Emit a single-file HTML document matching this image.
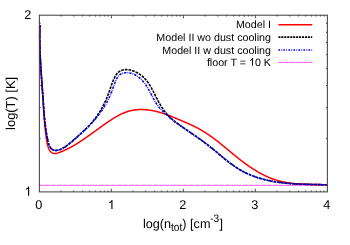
<!DOCTYPE html>
<html><head><meta charset="utf-8"><style>
html,body{margin:0;padding:0;background:#fff;}
svg{display:block;will-change:transform;}
text{text-rendering:geometricPrecision;}
text{font-family:"Liberation Sans",sans-serif;font-size:12px;fill:#000;}
</style></head><body>
<svg width="350" height="245" viewBox="0 0 350 245">
<rect width="350" height="245" fill="#fff"/>
<path d="M39.35,185.3 H327.35" stroke="#ff00ff" stroke-width="0.9" fill="none" opacity="0.5"/><path d="M39.35,185.3 H327.35" stroke="#ff00ff" stroke-width="0.9" stroke-dasharray="4.3,1.7" fill="none" opacity="0.45"/>
<path d="M39.95,25.01 L39.93,25.73 L39.90,26.45 L39.88,27.17 L39.86,27.89 L39.84,28.61 L39.82,29.33 L39.81,30.06 L39.80,30.78 L39.78,31.50 L39.77,32.22 L39.77,32.95 L39.76,33.67 L39.75,34.40 L39.75,35.12 L39.75,35.85 L39.75,36.57 L39.75,37.30 L39.75,38.03 L39.76,38.75 L39.76,39.48 L39.77,40.21 L39.78,40.94 L39.79,41.67 L39.80,42.40 L39.81,43.12 L39.83,43.85 L39.84,44.58 L39.86,45.31 L39.88,46.04 L39.90,46.77 L39.92,47.51 L39.94,48.24 L39.96,48.97 L39.99,49.70 L40.01,50.43 L40.04,51.16 L40.06,51.89 L40.09,52.63 L40.12,53.36 L40.15,54.09 L40.18,54.82 L40.21,55.56 L40.25,56.29 L40.28,57.02 L40.32,57.75 L40.35,58.49 L40.39,59.22 L40.43,59.95 L40.46,60.69 L40.50,61.42 L40.54,62.15 L40.58,62.89 L40.62,63.62 L40.67,64.35 L40.71,65.09 L40.75,65.82 L40.80,66.55 L40.84,67.29 L40.88,68.02 L40.93,68.75 L40.98,69.48 L41.02,70.22 L41.07,70.95 L41.12,71.68 L41.16,72.42 L41.21,73.15 L41.26,73.88 L41.31,74.61 L41.36,75.34 L41.41,76.08 L41.46,76.81 L41.51,77.54 L41.56,78.27 L41.61,79.00 L41.66,79.73 L41.71,80.46 L41.76,81.19 L41.81,81.92 L41.86,82.65 L41.91,83.38 L41.96,84.11 L42.02,84.84 L42.07,85.57 L42.12,86.29 L42.17,87.02 L42.22,87.75 L42.27,88.48 L42.32,89.20 L42.37,89.93 L42.42,90.65 L42.47,91.38 L42.52,92.10 L42.57,92.83 L42.62,93.55 L42.67,94.28 L42.72,95.00 L42.77,95.72 L42.82,96.44 L42.87,97.17 L42.91,97.89 L42.96,98.61 L43.01,99.33 L43.05,100.05 L43.10,100.77 L43.14,101.49 L43.19,102.20 L43.23,102.92 L43.28,103.64 L43.32,104.36 L43.37,105.07 L43.41,105.79 L43.45,106.51 L43.50,107.22 L43.54,107.94 L43.59,108.66 L43.63,109.37 L43.68,110.09 L43.72,110.80 L43.77,111.52 L43.81,112.24 L43.86,112.95 L43.91,113.67 L43.96,114.39 L44.01,115.11 L44.06,115.82 L44.11,116.54 L44.16,117.26 L44.21,117.98 L44.27,118.70 L44.32,119.42 L44.38,120.14 L44.44,120.86 L44.50,121.59 L44.56,122.31 L44.62,123.03 L44.68,123.76 L44.75,124.49 L44.81,125.21 L44.88,125.94 L44.95,126.67 L45.03,127.40 L45.10,128.13 L45.18,128.87 L45.26,129.60 L45.34,130.34 L45.42,131.07 L45.50,131.81 L45.59,132.55 L45.68,133.29 L45.77,134.03 L45.87,134.78 L45.97,135.52 L46.07,136.27 L46.17,137.02 L46.27,137.77 L46.38,138.52 L46.49,139.28 L46.61,140.03 L46.73,140.79 L46.85,141.55 L46.98,142.31 L47.12,143.06 L47.27,143.81 L47.44,144.56 L47.63,145.30 L47.83,146.04 L48.06,146.76 L48.31,147.48 L48.59,148.18 L48.90,148.87 L49.24,149.55 L49.61,150.21 L50.02,150.84 L50.46,151.43 L50.93,151.97 L51.43,152.45 L51.95,152.85 L52.51,153.17 L53.09,153.39 L53.69,153.53 L54.31,153.60 L54.96,153.60 L55.61,153.54 L56.28,153.42 L56.96,153.27 L57.65,153.07 L58.34,152.85 L59.03,152.60 L59.72,152.34 L60.41,152.07 L61.09,151.80 L61.78,151.52 L62.45,151.24 L63.13,150.95 L63.80,150.66 L64.47,150.36 L65.14,150.05 L65.80,149.74 L66.46,149.43 L67.11,149.11 L67.77,148.79 L68.42,148.46 L69.07,148.13 L69.71,147.79 L70.36,147.45 L71.00,147.10 L71.63,146.75 L72.27,146.40 L72.90,146.04 L73.54,145.68 L74.16,145.32 L74.79,144.95 L75.42,144.58 L76.04,144.20 L76.66,143.82 L77.28,143.44 L77.90,143.06 L78.51,142.67 L79.12,142.28 L79.74,141.88 L80.35,141.49 L80.96,141.09 L81.56,140.69 L82.17,140.28 L82.78,139.88 L83.38,139.47 L83.98,139.06 L84.58,138.65 L85.18,138.23 L85.78,137.82 L86.38,137.40 L86.98,136.98 L87.57,136.56 L88.17,136.14 L88.77,135.71 L89.36,135.29 L89.95,134.86 L90.55,134.43 L91.14,134.01 L91.73,133.58 L92.33,133.15 L92.92,132.72 L93.51,132.29 L94.10,131.86 L94.69,131.42 L95.29,130.99 L95.88,130.56 L96.47,130.13 L97.06,129.70 L97.65,129.27 L98.25,128.83 L98.84,128.40 L99.43,127.97 L100.03,127.54 L100.62,127.11 L101.22,126.68 L101.81,126.26 L102.41,125.83 L103.01,125.40 L103.61,124.98 L104.21,124.56 L104.81,124.13 L105.41,123.71 L106.01,123.29 L106.62,122.88 L107.22,122.46 L107.83,122.05 L108.44,121.64 L109.05,121.23 L109.66,120.82 L110.27,120.41 L110.88,120.01 L111.50,119.61 L112.12,119.21 L112.74,118.82 L113.36,118.43 L113.98,118.04 L114.61,117.66 L115.24,117.29 L115.87,116.91 L116.50,116.55 L117.14,116.19 L117.78,115.84 L118.42,115.49 L119.06,115.15 L119.71,114.81 L120.35,114.49 L121.01,114.17 L121.66,113.86 L122.32,113.56 L122.98,113.27 L123.64,112.98 L124.31,112.71 L124.98,112.45 L125.66,112.19 L126.33,111.95 L127.02,111.72 L127.70,111.50 L128.39,111.29 L129.08,111.09 L129.78,110.90 L130.48,110.73 L131.18,110.57 L131.89,110.42 L132.60,110.29 L133.32,110.16 L134.04,110.05 L134.76,109.95 L135.48,109.86 L136.21,109.78 L136.93,109.72 L137.66,109.66 L138.39,109.62 L139.13,109.58 L139.86,109.56 L140.59,109.55 L141.33,109.54 L142.06,109.55 L142.80,109.57 L143.53,109.59 L144.27,109.63 L145.00,109.67 L145.73,109.73 L146.47,109.79 L147.20,109.86 L147.93,109.94 L148.65,110.03 L149.38,110.13 L150.10,110.24 L150.82,110.35 L151.54,110.47 L152.26,110.60 L152.98,110.74 L153.69,110.88 L154.40,111.03 L155.11,111.19 L155.81,111.35 L156.52,111.52 L157.22,111.70 L157.92,111.88 L158.62,112.07 L159.32,112.26 L160.01,112.47 L160.71,112.67 L161.40,112.88 L162.09,113.10 L162.78,113.32 L163.47,113.55 L164.16,113.78 L164.84,114.01 L165.53,114.25 L166.21,114.49 L166.90,114.74 L167.58,114.99 L168.26,115.24 L168.94,115.50 L169.62,115.76 L170.30,116.03 L170.98,116.29 L171.66,116.56 L172.33,116.83 L173.01,117.11 L173.69,117.38 L174.36,117.66 L175.04,117.94 L175.72,118.22 L176.39,118.50 L177.07,118.78 L177.74,119.07 L178.42,119.35 L179.10,119.64 L179.77,119.92 L180.45,120.21 L181.12,120.50 L181.80,120.78 L182.48,121.07 L183.15,121.36 L183.83,121.65 L184.50,121.94 L185.18,122.23 L185.85,122.52 L186.53,122.82 L187.20,123.11 L187.87,123.41 L188.54,123.71 L189.21,124.01 L189.88,124.31 L190.55,124.62 L191.22,124.93 L191.88,125.24 L192.54,125.55 L193.20,125.87 L193.86,126.19 L194.52,126.51 L195.17,126.83 L195.82,127.16 L196.47,127.49 L197.12,127.83 L197.77,128.17 L198.41,128.51 L199.05,128.86 L199.69,129.21 L200.32,129.57 L200.95,129.93 L201.58,130.29 L202.20,130.66 L202.82,131.03 L203.44,131.41 L204.06,131.79 L204.67,132.17 L205.28,132.56 L205.89,132.95 L206.50,133.35 L207.10,133.75 L207.70,134.15 L208.30,134.56 L208.90,134.96 L209.49,135.38 L210.09,135.79 L210.68,136.21 L211.27,136.63 L211.85,137.05 L212.44,137.48 L213.02,137.91 L213.61,138.34 L214.19,138.77 L214.76,139.21 L215.34,139.65 L215.92,140.09 L216.49,140.53 L217.07,140.97 L217.64,141.42 L218.21,141.87 L218.78,142.32 L219.35,142.77 L219.92,143.22 L220.48,143.68 L221.05,144.13 L221.62,144.59 L222.18,145.05 L222.75,145.51 L223.31,145.97 L223.88,146.43 L224.44,146.89 L225.00,147.36 L225.56,147.82 L226.13,148.29 L226.69,148.75 L227.25,149.22 L227.81,149.68 L228.38,150.15 L228.94,150.61 L229.50,151.08 L230.07,151.55 L230.63,152.01 L231.19,152.48 L231.76,152.95 L232.32,153.41 L232.89,153.88 L233.45,154.34 L234.02,154.80 L234.59,155.27 L235.16,155.73 L235.73,156.19 L236.30,156.65 L236.87,157.11 L237.44,157.57 L238.02,158.02 L238.59,158.48 L239.17,158.93 L239.75,159.39 L240.33,159.84 L240.91,160.29 L241.49,160.74 L242.07,161.18 L242.66,161.62 L243.25,162.07 L243.84,162.51 L244.43,162.94 L245.02,163.38 L245.61,163.81 L246.21,164.24 L246.81,164.67 L247.40,165.10 L248.00,165.52 L248.61,165.94 L249.21,166.36 L249.82,166.77 L250.42,167.18 L251.03,167.59 L251.64,167.99 L252.26,168.39 L252.87,168.79 L253.49,169.19 L254.10,169.58 L254.72,169.96 L255.34,170.35 L255.97,170.73 L256.59,171.10 L257.22,171.48 L257.85,171.84 L258.48,172.21 L259.11,172.57 L259.75,172.92 L260.38,173.27 L261.02,173.62 L261.66,173.96 L262.31,174.30 L262.95,174.63 L263.60,174.95 L264.25,175.28 L264.90,175.59 L265.55,175.91 L266.21,176.21 L266.86,176.51 L267.52,176.81 L268.18,177.10 L268.85,177.39 L269.51,177.67 L270.18,177.94 L270.85,178.21 L271.52,178.47 L272.19,178.73 L272.87,178.98 L273.55,179.22 L274.23,179.46 L274.91,179.69 L275.60,179.91 L276.28,180.13 L276.97,180.34 L277.67,180.55 L278.36,180.75 L279.06,180.94 L279.75,181.12 L280.46,181.30 L281.16,181.47 L281.87,181.64 L282.57,181.79 L283.28,181.95 L284.00,182.09 L284.71,182.23 L285.42,182.36 L286.14,182.49 L286.86,182.61 L287.58,182.72 L288.30,182.83 L289.03,182.94 L289.75,183.04 L290.48,183.13 L291.21,183.22 L291.94,183.31 L292.67,183.39 L293.40,183.46 L294.13,183.54 L294.87,183.60 L295.60,183.67 L296.33,183.73 L297.07,183.78 L297.81,183.84 L298.54,183.89 L299.28,183.93 L300.02,183.98 L300.76,184.02 L301.50,184.06 L302.23,184.09 L302.97,184.12 L303.71,184.15 L304.45,184.18 L305.19,184.21 L305.93,184.23 L306.67,184.26 L307.40,184.28 L308.14,184.30 L308.88,184.32 L309.62,184.34 L310.35,184.35 L311.09,184.37 L311.82,184.38 L312.56,184.40 L313.29,184.41 L314.02,184.43 L314.75,184.44 L315.48,184.46 L316.21,184.47 L316.94,184.49 L317.67,184.50 L318.39,184.52 L319.11,184.54 L319.84,184.55 L320.56,184.57 L321.27,184.59 L321.99,184.62 L322.71,184.64 L323.42,184.67 L324.13,184.69 L324.84,184.72 L325.55,184.75 L326.25,184.79 L326.96,184.82" stroke="#ff0000" stroke-width="1.5" fill="none" stroke-linejoin="round"/>
<path d="M39.95,25.01 L39.93,25.81 L39.90,26.62 L39.88,27.43 L39.86,28.23 L39.84,29.04 L39.82,29.85 L39.81,30.66 L39.80,31.46 L39.79,32.27 L39.78,33.08 L39.77,33.89 L39.77,34.70 L39.76,35.51 L39.76,36.32 L39.76,37.13 L39.77,37.94 L39.77,38.75 L39.78,39.56 L39.79,40.37 L39.80,41.19 L39.81,42.00 L39.82,42.81 L39.83,43.62 L39.85,44.43 L39.87,45.25 L39.89,46.06 L39.91,46.87 L39.93,47.68 L39.95,48.50 L39.98,49.31 L40.00,50.12 L40.03,50.94 L40.06,51.75 L40.09,52.56 L40.12,53.38 L40.15,54.19 L40.19,55.01 L40.22,55.82 L40.26,56.63 L40.29,57.45 L40.33,58.26 L40.37,59.08 L40.41,59.89 L40.45,60.70 L40.50,61.52 L40.54,62.33 L40.58,63.15 L40.63,63.96 L40.67,64.77 L40.72,65.59 L40.77,66.40 L40.82,67.22 L40.87,68.03 L40.92,68.84 L40.97,69.66 L41.02,70.47 L41.07,71.29 L41.12,72.10 L41.18,72.91 L41.23,73.73 L41.29,74.54 L41.34,75.35 L41.40,76.16 L41.45,76.98 L41.51,77.79 L41.57,78.60 L41.62,79.41 L41.68,80.23 L41.74,81.04 L41.80,81.85 L41.85,82.66 L41.91,83.47 L41.97,84.28 L42.03,85.09 L42.09,85.90 L42.15,86.71 L42.21,87.52 L42.27,88.33 L42.33,89.14 L42.39,89.95 L42.45,90.76 L42.51,91.57 L42.57,92.38 L42.63,93.19 L42.69,93.99 L42.75,94.80 L42.81,95.61 L42.86,96.41 L42.92,97.22 L42.98,98.03 L43.04,98.83 L43.10,99.64 L43.16,100.44 L43.21,101.25 L43.27,102.05 L43.33,102.85 L43.39,103.66 L43.44,104.46 L43.50,105.26 L43.56,106.06 L43.62,106.87 L43.68,107.67 L43.74,108.47 L43.80,109.27 L43.86,110.08 L43.92,110.88 L43.98,111.68 L44.05,112.48 L44.11,113.29 L44.18,114.09 L44.25,114.89 L44.32,115.70 L44.39,116.50 L44.47,117.30 L44.54,118.11 L44.62,118.91 L44.70,119.72 L44.78,120.53 L44.87,121.33 L44.95,122.14 L45.04,122.95 L45.13,123.76 L45.23,124.56 L45.33,125.37 L45.43,126.18 L45.53,127.00 L45.64,127.81 L45.75,128.62 L45.86,129.43 L45.98,130.25 L46.10,131.06 L46.23,131.88 L46.35,132.70 L46.49,133.52 L46.62,134.34 L46.76,135.16 L46.91,135.98 L47.06,136.80 L47.21,137.63 L47.37,138.45 L47.53,139.28 L47.70,140.11 L47.87,140.94 L48.05,141.77 L48.25,142.59 L48.47,143.39 L48.71,144.19 L48.99,144.96 L49.30,145.70 L49.65,146.42 L50.05,147.10 L50.51,147.74 L51.02,148.33 L51.58,148.87 L52.19,149.35 L52.84,149.76 L53.52,150.08 L54.24,150.31 L54.97,150.44 L55.73,150.47 L56.50,150.41 L57.28,150.27 L58.07,150.07 L58.85,149.82 L59.63,149.53 L60.40,149.22 L61.16,148.89 L61.90,148.54 L62.64,148.18 L63.36,147.80 L64.08,147.40 L64.78,146.98 L65.48,146.56 L66.16,146.12 L66.84,145.66 L67.51,145.19 L68.17,144.72 L68.83,144.23 L69.48,143.73 L70.12,143.22 L70.76,142.70 L71.39,142.18 L72.01,141.64 L72.63,141.10 L73.25,140.56 L73.86,140.01 L74.47,139.45 L75.08,138.90 L75.68,138.34 L76.28,137.77 L76.88,137.21 L77.47,136.65 L78.07,136.08 L78.66,135.52 L79.26,134.95 L79.85,134.39 L80.45,133.84 L81.04,133.28 L81.64,132.73 L82.23,132.18 L82.83,131.63 L83.42,131.08 L84.01,130.53 L84.60,129.98 L85.18,129.43 L85.77,128.87 L86.35,128.32 L86.92,127.76 L87.50,127.19 L88.07,126.63 L88.63,126.05 L89.19,125.48 L89.75,124.89 L90.30,124.31 L90.84,123.71 L91.38,123.11 L91.91,122.50 L92.43,121.88 L92.95,121.26 L93.47,120.63 L93.97,120.00 L94.48,119.36 L94.97,118.72 L95.46,118.07 L95.95,117.41 L96.43,116.75 L96.90,116.09 L97.36,115.42 L97.82,114.75 L98.28,114.07 L98.73,113.38 L99.17,112.69 L99.60,112.00 L100.03,111.31 L100.46,110.61 L100.87,109.90 L101.28,109.19 L101.69,108.48 L102.09,107.77 L102.48,107.05 L102.86,106.33 L103.24,105.61 L103.62,104.88 L103.98,104.15 L104.34,103.42 L104.70,102.68 L105.04,101.95 L105.38,101.21 L105.72,100.46 L106.05,99.72 L106.37,98.98 L106.68,98.23 L106.99,97.48 L107.29,96.73 L107.59,95.98 L107.87,95.23 L108.16,94.48 L108.43,93.73 L108.70,92.97 L108.97,92.21 L109.23,91.46 L109.49,90.70 L109.75,89.94 L110.01,89.18 L110.28,88.42 L110.54,87.65 L110.80,86.89 L111.07,86.12 L111.35,85.35 L111.63,84.58 L111.91,83.81 L112.21,83.03 L112.51,82.26 L112.82,81.48 L113.14,80.70 L113.47,79.92 L113.82,79.13 L114.18,78.35 L114.56,77.58 L114.95,76.81 L115.36,76.07 L115.79,75.35 L116.24,74.66 L116.72,74.00 L117.22,73.38 L117.75,72.80 L118.30,72.27 L118.89,71.79 L119.50,71.36 L120.14,70.99 L120.80,70.66 L121.49,70.38 L122.19,70.15 L122.92,69.96 L123.66,69.82 L124.42,69.72 L125.19,69.65 L125.97,69.63 L126.76,69.65 L127.57,69.71 L128.38,69.80 L129.19,69.92 L130.01,70.08 L130.83,70.27 L131.64,70.50 L132.46,70.75 L133.28,71.03 L134.08,71.33 L134.88,71.66 L135.68,72.02 L136.46,72.40 L137.23,72.80 L137.98,73.22 L138.72,73.65 L139.45,74.11 L140.15,74.58 L140.83,75.07 L141.49,75.57 L142.14,76.09 L142.76,76.62 L143.36,77.16 L143.95,77.71 L144.51,78.28 L145.06,78.86 L145.60,79.45 L146.12,80.05 L146.62,80.66 L147.11,81.28 L147.59,81.91 L148.06,82.55 L148.51,83.19 L148.95,83.85 L149.38,84.51 L149.81,85.18 L150.22,85.86 L150.62,86.54 L151.02,87.23 L151.41,87.93 L151.79,88.63 L152.17,89.33 L152.55,90.04 L152.92,90.75 L153.28,91.47 L153.65,92.19 L154.01,92.91 L154.37,93.63 L154.73,94.35 L155.09,95.08 L155.45,95.81 L155.81,96.53 L156.18,97.26 L156.55,97.98 L156.92,98.71 L157.29,99.43 L157.67,100.15 L158.06,100.87 L158.45,101.59 L158.84,102.30 L159.24,103.01 L159.65,103.72 L160.06,104.43 L160.48,105.13 L160.91,105.82 L161.34,106.51 L161.77,107.20 L162.22,107.88 L162.67,108.55 L163.13,109.22 L163.60,109.88 L164.07,110.54 L164.56,111.19 L165.05,111.83 L165.55,112.47 L166.06,113.09 L166.57,113.71 L167.10,114.32 L167.64,114.92 L168.18,115.52 L168.74,116.10 L169.31,116.68 L169.88,117.24 L170.46,117.80 L171.05,118.35 L171.65,118.89 L172.26,119.43 L172.87,119.96 L173.49,120.48 L174.12,121.00 L174.75,121.50 L175.39,122.01 L176.03,122.51 L176.68,123.00 L177.34,123.49 L177.99,123.97 L178.66,124.45 L179.32,124.93 L179.99,125.40 L180.66,125.87 L181.33,126.34 L182.01,126.80 L182.69,127.26 L183.36,127.72 L184.04,128.18 L184.72,128.64 L185.41,129.09 L186.09,129.55 L186.77,130.00 L187.44,130.46 L188.12,130.91 L188.80,131.37 L189.47,131.82 L190.15,132.28 L190.82,132.73 L191.49,133.19 L192.16,133.65 L192.83,134.11 L193.50,134.57 L194.16,135.03 L194.83,135.49 L195.49,135.95 L196.15,136.41 L196.81,136.88 L197.47,137.34 L198.13,137.81 L198.78,138.28 L199.44,138.75 L200.09,139.22 L200.75,139.70 L201.40,140.17 L202.05,140.65 L202.69,141.13 L203.34,141.61 L203.99,142.09 L204.63,142.58 L205.28,143.07 L205.92,143.55 L206.56,144.05 L207.20,144.54 L207.84,145.04 L208.47,145.54 L209.11,146.04 L209.74,146.54 L210.38,147.05 L211.01,147.56 L211.64,148.07 L212.27,148.59 L212.90,149.10 L213.53,149.62 L214.15,150.14 L214.78,150.66 L215.41,151.19 L216.03,151.71 L216.66,152.23 L217.29,152.76 L217.91,153.28 L218.54,153.81 L219.17,154.33 L219.80,154.86 L220.42,155.38 L221.05,155.91 L221.68,156.43 L222.31,156.95 L222.94,157.47 L223.57,157.99 L224.21,158.50 L224.84,159.02 L225.48,159.53 L226.12,160.04 L226.76,160.55 L227.40,161.05 L228.04,161.56 L228.68,162.05 L229.33,162.55 L229.98,163.04 L230.63,163.53 L231.29,164.01 L231.94,164.49 L232.60,164.96 L233.26,165.43 L233.93,165.90 L234.60,166.36 L235.27,166.81 L235.94,167.26 L236.62,167.70 L237.30,168.14 L237.99,168.57 L238.67,168.99 L239.37,169.41 L240.06,169.82 L240.76,170.22 L241.47,170.62 L242.17,171.01 L242.88,171.39 L243.60,171.76 L244.32,172.13 L245.04,172.49 L245.77,172.85 L246.50,173.19 L247.23,173.54 L247.97,173.87 L248.71,174.20 L249.45,174.52 L250.19,174.84 L250.94,175.14 L251.69,175.45 L252.45,175.74 L253.20,176.03 L253.96,176.32 L254.72,176.59 L255.49,176.86 L256.25,177.13 L257.02,177.39 L257.79,177.64 L258.57,177.89 L259.34,178.13 L260.12,178.36 L260.90,178.59 L261.68,178.82 L262.46,179.04 L263.24,179.25 L264.03,179.46 L264.82,179.66 L265.60,179.85 L266.39,180.04 L267.19,180.23 L267.98,180.41 L268.77,180.58 L269.57,180.75 L270.36,180.92 L271.16,181.07 L271.95,181.23 L272.75,181.38 L273.55,181.52 L274.35,181.66 L275.15,181.79 L275.95,181.92 L276.75,182.05 L277.55,182.17 L278.36,182.29 L279.16,182.40 L279.97,182.51 L280.77,182.61 L281.58,182.71 L282.38,182.81 L283.19,182.90 L284.00,182.99 L284.80,183.08 L285.61,183.16 L286.42,183.24 L287.23,183.31 L288.04,183.39 L288.85,183.46 L289.66,183.52 L290.47,183.58 L291.28,183.65 L292.09,183.70 L292.90,183.76 L293.72,183.81 L294.53,183.86 L295.34,183.91 L296.15,183.95 L296.97,183.99 L297.78,184.03 L298.59,184.07 L299.40,184.11 L300.22,184.14 L301.03,184.18 L301.85,184.21 L302.66,184.24 L303.47,184.27 L304.29,184.29 L305.10,184.32 L305.91,184.34 L306.73,184.36 L307.54,184.39 L308.35,184.41 L309.17,184.43 L309.98,184.45 L310.79,184.47 L311.61,184.48 L312.42,184.50 L313.23,184.52 L314.04,184.53 L314.85,184.55 L315.67,184.57 L316.48,184.58 L317.29,184.60 L318.10,184.62 L318.91,184.63 L319.72,184.65 L320.53,184.67 L321.34,184.68 L322.15,184.70 L322.95,184.72 L323.76,184.74 L324.57,184.76 L325.37,184.78 L326.18,184.81 L326.99,184.83" stroke="#000" stroke-width="1.6" fill="none" stroke-dasharray="2.75,0.95"/>
<path d="M39.96,25.01 L39.93,25.80 L39.90,26.60 L39.87,27.39 L39.84,28.19 L39.82,28.98 L39.80,29.78 L39.78,30.58 L39.76,31.37 L39.75,32.17 L39.74,32.97 L39.73,33.77 L39.72,34.57 L39.72,35.37 L39.71,36.17 L39.71,36.97 L39.71,37.77 L39.72,38.57 L39.72,39.37 L39.73,40.17 L39.74,40.97 L39.75,41.77 L39.76,42.58 L39.77,43.38 L39.79,44.18 L39.81,44.98 L39.82,45.79 L39.85,46.59 L39.87,47.40 L39.89,48.20 L39.92,49.00 L39.94,49.81 L39.97,50.61 L40.00,51.42 L40.03,52.22 L40.07,53.03 L40.10,53.83 L40.14,54.64 L40.17,55.44 L40.21,56.25 L40.25,57.05 L40.29,57.86 L40.33,58.67 L40.37,59.47 L40.42,60.28 L40.46,61.08 L40.51,61.89 L40.55,62.69 L40.60,63.50 L40.65,64.31 L40.70,65.11 L40.75,65.92 L40.80,66.72 L40.85,67.53 L40.90,68.34 L40.95,69.14 L41.01,69.95 L41.06,70.75 L41.11,71.56 L41.17,72.36 L41.22,73.17 L41.28,73.97 L41.34,74.78 L41.39,75.58 L41.45,76.39 L41.51,77.19 L41.57,77.99 L41.63,78.80 L41.68,79.60 L41.74,80.40 L41.80,81.21 L41.86,82.01 L41.92,82.81 L41.98,83.61 L42.04,84.42 L42.10,85.22 L42.16,86.02 L42.21,86.82 L42.27,87.62 L42.33,88.42 L42.39,89.22 L42.45,90.02 L42.51,90.82 L42.56,91.62 L42.62,92.41 L42.68,93.21 L42.74,94.01 L42.79,94.81 L42.85,95.60 L42.90,96.40 L42.96,97.19 L43.01,97.99 L43.07,98.78 L43.12,99.58 L43.17,100.37 L43.22,101.16 L43.28,101.96 L43.33,102.75 L43.38,103.54 L43.43,104.33 L43.48,105.12 L43.53,105.91 L43.58,106.70 L43.63,107.50 L43.69,108.29 L43.74,109.08 L43.79,109.87 L43.85,110.66 L43.90,111.45 L43.96,112.24 L44.02,113.03 L44.08,113.82 L44.14,114.61 L44.21,115.41 L44.28,116.20 L44.34,116.99 L44.41,117.78 L44.49,118.58 L44.56,119.37 L44.64,120.17 L44.72,120.96 L44.81,121.76 L44.90,122.56 L44.99,123.36 L45.08,124.16 L45.18,124.96 L45.28,125.76 L45.39,126.56 L45.50,127.37 L45.61,128.17 L45.73,128.98 L45.85,129.78 L45.97,130.59 L46.11,131.40 L46.24,132.21 L46.38,133.03 L46.53,133.84 L46.68,134.66 L46.84,135.47 L47.00,136.29 L47.17,137.11 L47.34,137.93 L47.52,138.76 L47.70,139.58 L47.90,140.41 L48.09,141.24 L48.30,142.07 L48.52,142.88 L48.76,143.68 L49.02,144.46 L49.30,145.21 L49.61,145.94 L49.94,146.63 L50.31,147.27 L50.71,147.88 L51.15,148.43 L51.64,148.92 L52.16,149.35 L52.74,149.72 L53.36,150.01 L54.04,150.23 L54.78,150.36 L55.57,150.42 L56.39,150.40 L57.25,150.31 L58.11,150.16 L58.97,149.96 L59.82,149.72 L60.64,149.43 L61.42,149.12 L62.18,148.77 L62.92,148.39 L63.63,147.98 L64.32,147.55 L64.99,147.10 L65.64,146.63 L66.28,146.14 L66.91,145.64 L67.53,145.13 L68.14,144.61 L68.75,144.08 L69.35,143.56 L69.95,143.03 L70.56,142.50 L71.17,141.98 L71.78,141.46 L72.39,140.94 L73.00,140.42 L73.61,139.90 L74.23,139.39 L74.84,138.87 L75.46,138.36 L76.07,137.84 L76.69,137.32 L77.30,136.81 L77.91,136.29 L78.52,135.77 L79.13,135.25 L79.73,134.73 L80.34,134.20 L80.94,133.67 L81.54,133.14 L82.13,132.61 L82.72,132.08 L83.31,131.54 L83.90,131.00 L84.48,130.45 L85.06,129.90 L85.64,129.35 L86.22,128.80 L86.79,128.24 L87.36,127.68 L87.93,127.12 L88.49,126.55 L89.05,125.98 L89.61,125.40 L90.16,124.82 L90.72,124.24 L91.26,123.65 L91.81,123.06 L92.35,122.46 L92.89,121.86 L93.43,121.26 L93.96,120.65 L94.48,120.04 L95.01,119.43 L95.53,118.81 L96.04,118.19 L96.55,117.56 L97.06,116.93 L97.56,116.30 L98.06,115.66 L98.56,115.02 L99.04,114.38 L99.53,113.73 L100.01,113.08 L100.48,112.43 L100.95,111.77 L101.41,111.11 L101.87,110.44 L102.32,109.78 L102.77,109.11 L103.21,108.43 L103.64,107.76 L104.07,107.08 L104.49,106.39 L104.91,105.71 L105.32,105.02 L105.73,104.33 L106.12,103.63 L106.51,102.93 L106.90,102.23 L107.27,101.53 L107.64,100.82 L108.01,100.11 L108.36,99.40 L108.71,98.69 L109.05,97.97 L109.38,97.25 L109.71,96.52 L110.03,95.80 L110.34,95.07 L110.64,94.34 L110.93,93.61 L111.22,92.87 L111.51,92.13 L111.79,91.39 L112.06,90.64 L112.34,89.89 L112.61,89.14 L112.88,88.38 L113.15,87.62 L113.43,86.85 L113.70,86.08 L113.98,85.31 L114.27,84.53 L114.56,83.75 L114.85,82.96 L115.15,82.16 L115.47,81.37 L115.79,80.58 L116.14,79.80 L116.50,79.04 L116.88,78.30 L117.30,77.59 L117.74,76.92 L118.21,76.28 L118.73,75.69 L119.28,75.16 L119.87,74.68 L120.51,74.25 L121.18,73.89 L121.88,73.57 L122.61,73.31 L123.36,73.10 L124.14,72.93 L124.93,72.82 L125.73,72.74 L126.54,72.71 L127.35,72.73 L128.16,72.78 L128.97,72.87 L129.78,73.00 L130.56,73.16 L131.34,73.36 L132.10,73.59 L132.85,73.85 L133.59,74.14 L134.31,74.46 L135.02,74.80 L135.72,75.18 L136.40,75.58 L137.08,76.00 L137.73,76.45 L138.38,76.92 L139.01,77.42 L139.63,77.93 L140.23,78.46 L140.82,79.02 L141.40,79.58 L141.97,80.17 L142.52,80.77 L143.06,81.38 L143.59,82.01 L144.11,82.65 L144.61,83.30 L145.10,83.95 L145.57,84.62 L146.03,85.30 L146.49,85.98 L146.92,86.66 L147.35,87.35 L147.77,88.05 L148.18,88.75 L148.58,89.46 L148.98,90.17 L149.37,90.88 L149.75,91.59 L150.13,92.31 L150.50,93.02 L150.88,93.74 L151.25,94.45 L151.62,95.17 L151.99,95.89 L152.36,96.60 L152.73,97.31 L153.11,98.02 L153.48,98.72 L153.87,99.42 L154.26,100.12 L154.65,100.81 L155.05,101.50 L155.46,102.18 L155.88,102.85 L156.31,103.52 L156.75,104.18 L157.20,104.83 L157.66,105.48 L158.14,106.11 L158.63,106.73 L159.13,107.35 L159.64,107.96 L160.16,108.56 L160.69,109.16 L161.23,109.74 L161.77,110.32 L162.33,110.89 L162.90,111.46 L163.47,112.02 L164.05,112.58 L164.63,113.12 L165.22,113.67 L165.82,114.21 L166.42,114.74 L167.02,115.27 L167.63,115.79 L168.24,116.31 L168.85,116.83 L169.47,117.34 L170.09,117.85 L170.71,118.36 L171.33,118.86 L171.96,119.36 L172.59,119.86 L173.22,120.35 L173.85,120.84 L174.49,121.33 L175.12,121.81 L175.76,122.30 L176.40,122.77 L177.05,123.25 L177.69,123.73 L178.34,124.20 L178.98,124.67 L179.63,125.14 L180.28,125.60 L180.93,126.07 L181.59,126.53 L182.24,126.99 L182.89,127.45 L183.55,127.91 L184.21,128.37 L184.86,128.83 L185.52,129.28 L186.18,129.74 L186.84,130.19 L187.50,130.64 L188.16,131.09 L188.82,131.55 L189.49,132.00 L190.15,132.45 L190.81,132.90 L191.47,133.35 L192.13,133.80 L192.80,134.25 L193.46,134.71 L194.12,135.16 L194.78,135.61 L195.44,136.06 L196.10,136.52 L196.76,136.97 L197.42,137.43 L198.08,137.89 L198.74,138.34 L199.40,138.80 L200.06,139.26 L200.71,139.72 L201.37,140.19 L202.02,140.65 L202.67,141.12 L203.33,141.59 L203.98,142.06 L204.62,142.53 L205.27,143.01 L205.92,143.49 L206.56,143.97 L207.20,144.45 L207.84,144.94 L208.48,145.43 L209.12,145.92 L209.75,146.41 L210.39,146.91 L211.02,147.41 L211.65,147.91 L212.27,148.42 L212.90,148.93 L213.52,149.44 L214.15,149.95 L214.77,150.47 L215.39,150.98 L216.01,151.50 L216.63,152.02 L217.24,152.54 L217.86,153.06 L218.48,153.58 L219.09,154.10 L219.71,154.62 L220.33,155.14 L220.94,155.66 L221.56,156.18 L222.18,156.70 L222.80,157.22 L223.41,157.73 L224.03,158.25 L224.65,158.76 L225.28,159.27 L225.90,159.78 L226.52,160.29 L227.15,160.79 L227.78,161.29 L228.41,161.79 L229.04,162.29 L229.67,162.78 L230.31,163.26 L230.94,163.75 L231.58,164.23 L232.23,164.70 L232.87,165.17 L233.52,165.64 L234.18,166.10 L234.83,166.55 L235.49,167.00 L236.15,167.45 L236.82,167.88 L237.49,168.32 L238.16,168.74 L238.84,169.16 L239.52,169.57 L240.21,169.98 L240.90,170.37 L241.59,170.76 L242.29,171.15 L242.99,171.52 L243.70,171.89 L244.41,172.26 L245.13,172.61 L245.85,172.96 L246.57,173.30 L247.30,173.64 L248.03,173.97 L248.76,174.29 L249.49,174.60 L250.23,174.91 L250.98,175.21 L251.72,175.51 L252.47,175.80 L253.22,176.08 L253.98,176.36 L254.73,176.63 L255.49,176.90 L256.25,177.16 L257.02,177.41 L257.78,177.66 L258.55,177.90 L259.32,178.14 L260.09,178.37 L260.86,178.59 L261.64,178.81 L262.42,179.03 L263.20,179.23 L263.97,179.44 L264.76,179.63 L265.54,179.83 L266.32,180.01 L267.11,180.20 L267.89,180.37 L268.68,180.54 L269.47,180.71 L270.25,180.87 L271.04,181.03 L271.83,181.18 L272.62,181.33 L273.41,181.47 L274.20,181.61 L274.99,181.74 L275.78,181.87 L276.58,182.00 L277.37,182.12 L278.16,182.24 L278.96,182.35 L279.75,182.46 L280.55,182.56 L281.34,182.66 L282.14,182.76 L282.93,182.85 L283.73,182.94 L284.52,183.03 L285.32,183.11 L286.12,183.19 L286.92,183.27 L287.71,183.34 L288.51,183.42 L289.31,183.48 L290.11,183.55 L290.91,183.61 L291.71,183.67 L292.51,183.73 L293.31,183.78 L294.11,183.83 L294.91,183.88 L295.71,183.93 L296.51,183.97 L297.31,184.01 L298.12,184.05 L298.92,184.09 L299.72,184.13 L300.52,184.16 L301.32,184.20 L302.13,184.23 L302.93,184.26 L303.73,184.29 L304.53,184.31 L305.34,184.34 L306.14,184.36 L306.94,184.38 L307.74,184.41 L308.55,184.43 L309.35,184.45 L310.15,184.47 L310.96,184.49 L311.76,184.50 L312.56,184.52 L313.36,184.54 L314.17,184.55 L314.97,184.57 L315.77,184.59 L316.58,184.60 L317.38,184.62 L318.18,184.63 L318.98,184.65 L319.79,184.66 L320.59,184.68 L321.39,184.69 L322.19,184.71 L322.99,184.73 L323.79,184.75 L324.60,184.76 L325.40,184.78 L326.20,184.80 L327.00,184.82" stroke="#0000ff" stroke-width="1.6" fill="none" stroke-dasharray="2.3,1.05,0.75,1.05"/>
<rect x="39.35" y="15.2" width="288.0" height="176.70000000000002" fill="none" stroke="#3a3a3a" stroke-width="1"/>
<path d="M61.02,191.90 v-1.4 M61.02,15.20 v1.4 M73.70,191.90 v-1.4 M73.70,15.20 v1.4 M82.70,191.90 v-1.4 M82.70,15.20 v1.4 M89.68,191.90 v-1.4 M89.68,15.20 v1.4 M95.38,191.90 v-1.4 M95.38,15.20 v1.4 M100.20,191.90 v-1.4 M100.20,15.20 v1.4 M104.37,191.90 v-1.4 M104.37,15.20 v1.4 M108.06,191.90 v-1.4 M108.06,15.20 v1.4 M111.35,191.90 v-3.2 M111.35,15.20 v3.2 M133.02,191.90 v-1.4 M133.02,15.20 v1.4 M145.70,191.90 v-1.4 M145.70,15.20 v1.4 M154.70,191.90 v-1.4 M154.70,15.20 v1.4 M161.68,191.90 v-1.4 M161.68,15.20 v1.4 M167.38,191.90 v-1.4 M167.38,15.20 v1.4 M172.20,191.90 v-1.4 M172.20,15.20 v1.4 M176.37,191.90 v-1.4 M176.37,15.20 v1.4 M180.06,191.90 v-1.4 M180.06,15.20 v1.4 M183.35,191.90 v-3.2 M183.35,15.20 v3.2 M205.02,191.90 v-1.4 M205.02,15.20 v1.4 M217.70,191.90 v-1.4 M217.70,15.20 v1.4 M226.70,191.90 v-1.4 M226.70,15.20 v1.4 M233.68,191.90 v-1.4 M233.68,15.20 v1.4 M239.38,191.90 v-1.4 M239.38,15.20 v1.4 M244.20,191.90 v-1.4 M244.20,15.20 v1.4 M248.37,191.90 v-1.4 M248.37,15.20 v1.4 M252.06,191.90 v-1.4 M252.06,15.20 v1.4 M255.35,191.90 v-3.2 M255.35,15.20 v3.2 M277.02,191.90 v-1.4 M277.02,15.20 v1.4 M289.70,191.90 v-1.4 M289.70,15.20 v1.4 M298.70,191.90 v-1.4 M298.70,15.20 v1.4 M305.68,191.90 v-1.4 M305.68,15.20 v1.4 M311.38,191.90 v-1.4 M311.38,15.20 v1.4 M316.20,191.90 v-1.4 M316.20,15.20 v1.4 M320.37,191.90 v-1.4 M320.37,15.20 v1.4 M324.06,191.90 v-1.4 M324.06,15.20 v1.4 M39.35,138.71 h1.4 M327.35,138.71 h-1.4 M39.35,107.59 h1.4 M327.35,107.59 h-1.4 M39.35,85.52 h1.4 M327.35,85.52 h-1.4 M39.35,68.39 h1.4 M327.35,68.39 h-1.4 M39.35,54.40 h1.4 M327.35,54.40 h-1.4 M39.35,42.57 h1.4 M327.35,42.57 h-1.4 M39.35,32.32 h1.4 M327.35,32.32 h-1.4 M39.35,23.29 h1.4 M327.35,23.29 h-1.4 " stroke="#3a3a3a" stroke-width="0.9" fill="none"/>
<!-- legend -->
<g id="txt">
<g style="font-size:10.7px">
<text x="271" y="28.2" text-anchor="end" style="font-size:10.7px">Model I</text>
<text x="271" y="41" text-anchor="end" style="font-size:10.7px">Model II wo dust cooling</text>
<text x="271" y="53.7" text-anchor="end" style="font-size:10.7px">Model II w dust cooling</text>
<text x="271" y="65.8" text-anchor="end" style="font-size:10.7px">0 K</text><path d="M763 0 H583 V1147 Q518 1085 412.5 1023 Q307 961 223 930 V1104 Q374 1175 487 1276 Q600 1377 647 1472 H763 Z" transform="translate(248.99,65.8) scale(0.005225,-0.005225)" fill="#000"/><text x="248.99" y="65.8" text-anchor="end" style="font-size:10.7px" xml:space="preserve">floor T = </text>
</g>
<path d="M278.4,24.7 H312.2" stroke="#ff0000" stroke-width="1.6"/>
<path d="M278.4,37.1 H312.2" stroke="#000" stroke-width="1.7" stroke-dasharray="2.05,0.9"/>
<path d="M278.4,50 H312.2" stroke="#0000ff" stroke-width="1.6" stroke-dasharray="1.7,1.25,0.8,1.25"/>
<path d="M278.4,62.4 H312.2" stroke="#ff00ff" stroke-width="0.9" opacity="0.5"/><path d="M278.4,62.4 H312.2" stroke="#ff00ff" stroke-width="0.9" stroke-dasharray="4.3,1.7" opacity="0.45"/>
<!-- tick labels -->
<g style="font-size:12.7px">
<text x="31.4" y="19.3" text-anchor="end" style="font-size:12.7px">2</text>
<path d="M763 0 H583 V1147 Q518 1085 412.5 1023 Q307 961 223 930 V1104 Q374 1175 487 1276 Q600 1377 647 1472 H763 Z" transform="translate(24.45,195.7) scale(0.006201,-0.006201)" fill="#000"/>
<text x="38.9" y="209.1" text-anchor="middle" style="font-size:12.7px">0</text>
<path d="M763 0 H583 V1147 Q518 1085 412.5 1023 Q307 961 223 930 V1104 Q374 1175 487 1276 Q600 1377 647 1472 H763 Z" transform="translate(107.75,209.1) scale(0.006201,-0.006201)" fill="#000"/>
<text x="182.9" y="209.1" text-anchor="middle" style="font-size:12.7px">2</text>
<text x="254.9" y="209.1" text-anchor="middle" style="font-size:12.7px">3</text>
<text x="326.9" y="209.1" text-anchor="middle" style="font-size:12.7px">4</text>
</g>
<!-- axis labels -->
<g style="font-size:12.7px">
<text x="142.9" y="227.6" style="font-size:12.7px">log(n</text>
<text transform="translate(170.9,231.3) scale(1,1.12)" style="font-size:10.2px">tot</text>
<text x="182.3" y="227.5" style="font-size:12.7px">) [cm</text>
<text transform="translate(210.2,221.8) scale(1,1.09)" style="font-size:10px">-3</text>
<text x="219.4" y="227.5" style="font-size:12.7px">]</text>
</g>
<text id="yl" transform="translate(14.5,103.4) rotate(-90)" text-anchor="middle" style="font-size:12.9px">log(T) [K]</text>
</g>
</svg>
</body></html>
